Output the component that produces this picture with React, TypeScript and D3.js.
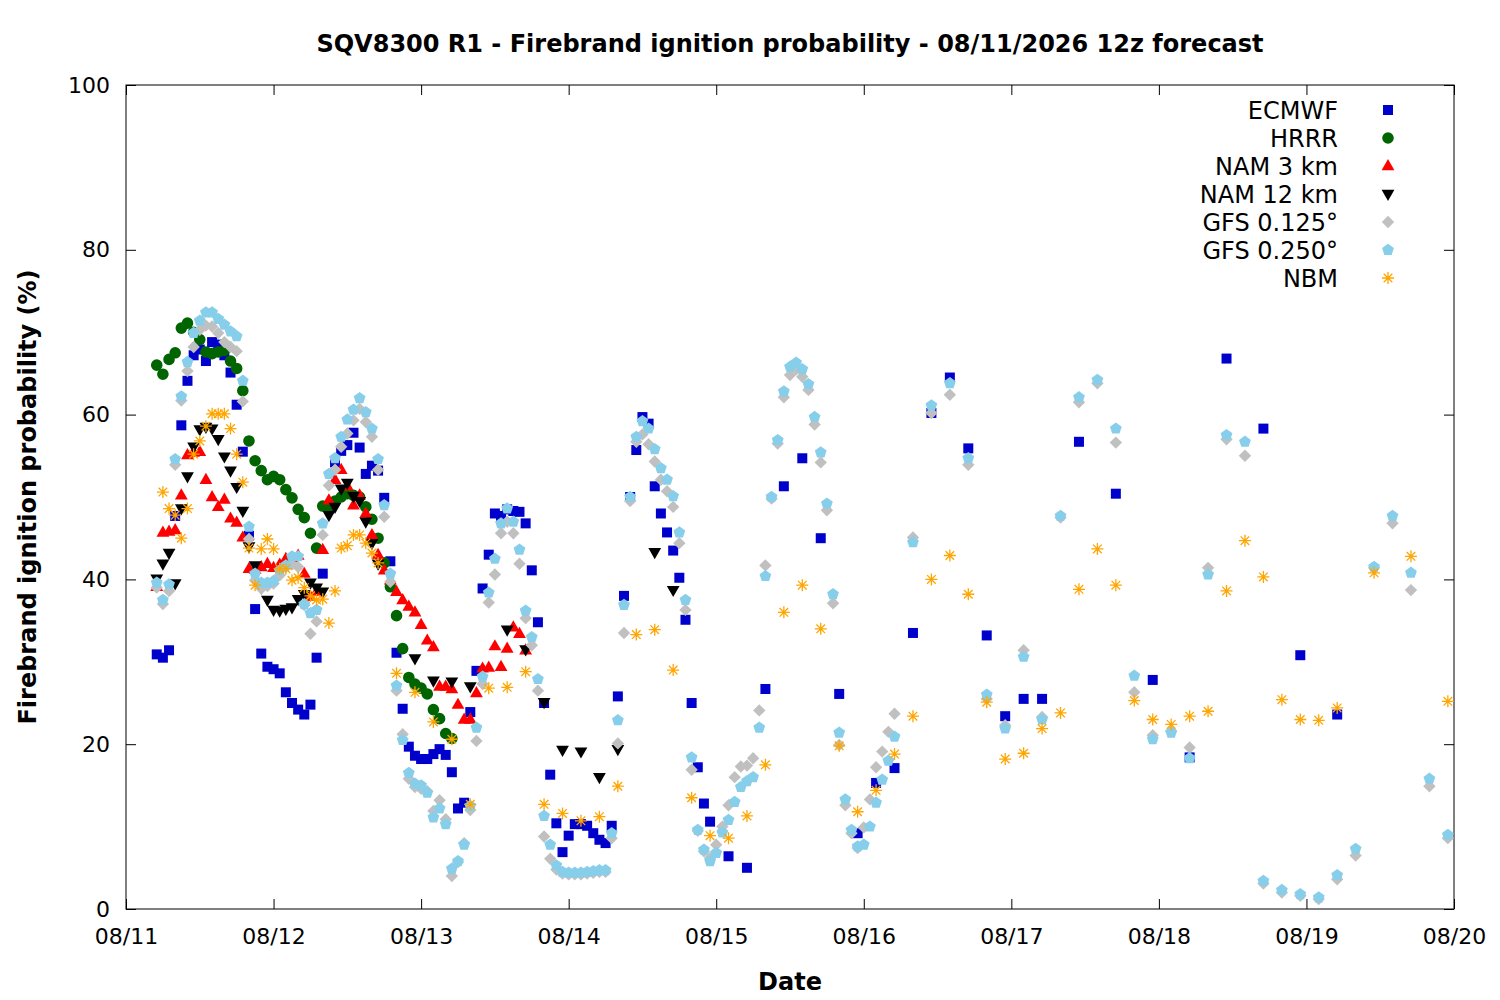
import { useEffect, useRef } from 'react';
import * as d3 from 'd3';

// each point: [hours after 08/11 00:00, ignition probability %]
type Pt = [number, number];

const dateLabels = ['08/11', '08/12', '08/13', '08/14', '08/15', '08/16', '08/17', '08/18', '08/19', '08/20'];
const yTicks = [0, 20, 40, 60, 80, 100];

const ecmwf: Pt[] = [
  [5, 30.9], [6, 30.5], [7, 31.4], [8, 47.7], [9, 58.7], [10, 64.1], [11, 67.2], [12, 67.9], [13, 66.5], [14, 68.8],
  [15, 68.5], [16, 67.2], [17, 65.1], [18, 61.2], [19, 55.5], [20, 45.3], [21, 36.4], [22, 31.0], [23, 29.4], [24, 29.1],
  [25, 28.6], [26, 26.3], [27, 25.0], [28, 24.2], [29, 23.6], [30, 24.8], [31, 30.5], [32, 40.7], [33, 48.8], [34, 54.2],
  [35, 55.6], [36, 56.3], [37, 57.8], [38, 56.0], [39, 52.8], [40, 53.8], [41, 53.2], [42, 49.9], [43, 42.2], [44, 31.1],
  [45, 24.3], [46, 19.7], [47, 18.6], [48, 18.2], [49, 18.2], [50, 18.8], [51, 19.4], [52, 18.7], [53, 16.6], [54, 12.2],
  [55, 12.9], [56, 23.9], [57, 28.9], [58, 38.9], [59, 43.0], [60, 48.0], [61, 47.7], [62, 48.5], [63, 48.3], [64, 48.2],
  [65, 46.8], [66, 41.1], [67, 34.8], [68, 25.0], [69, 16.3], [70, 10.4], [71, 6.9], [72, 8.9], [73, 10.3], [74, 10.3],
  [75, 10.1], [76, 9.2], [77, 8.4], [78, 8.0], [79, 10.1], [80, 25.8], [81, 38.0], [82, 50.0], [83, 55.7], [84, 59.7],
  [85, 58.9], [86, 51.3], [87, 48.0], [88, 45.7], [89, 43.5], [90, 40.2], [91, 35.1], [92, 25.0], [93, 17.2], [94, 12.8],
  [95, 10.6], [98, 6.4], [101, 5.0], [104, 26.7], [107, 51.3], [110, 54.7], [113, 45.0], [116, 26.1], [119, 9.2],
  [122, 15.3], [125, 17.1], [128, 33.5], [131, 60.2], [134, 64.5], [137, 55.9], [140, 33.2], [143, 23.4], [146, 25.5],
  [149, 25.5], [155, 56.7], [161, 50.4], [167, 27.8], [173, 18.4], [179, 66.8], [185, 58.3], [191, 30.8], [197, 23.6],
];

const hrrr: Pt[] = [
  [5, 66.0], [6, 64.9], [7, 66.7], [8, 67.5], [9, 70.5], [10, 71.1], [11, 70.0], [12, 69.1], [13, 67.6], [14, 67.4],
  [15, 67.6], [16, 67.8], [17, 66.5], [18, 65.6], [19, 62.9], [20, 56.8], [21, 54.4], [22, 53.2], [23, 52.1], [24, 52.5],
  [25, 52.1], [26, 50.9], [27, 49.9], [28, 48.5], [29, 47.5], [30, 45.6], [31, 43.8], [32, 48.9], [33, 48.9], [34, 49.5],
  [35, 50.0], [36, 50.4], [37, 50.2], [38, 50.0], [39, 48.8], [40, 47.3], [41, 45.0], [42, 42.0], [43, 39.1], [44, 35.6],
  [45, 31.6], [46, 28.1], [47, 27.3], [48, 26.8], [49, 26.1], [50, 24.2], [51, 23.1], [52, 21.3], [53, 20.7],
];

const nam3: Pt[] = [
  [5, 39.1], [6, 45.7], [7, 45.8], [8, 46.0], [9, 50.2], [10, 55.1], [11, 55.4], [12, 55.5], [13, 52.1], [14, 50.0],
  [15, 48.8], [16, 49.7], [17, 47.4], [18, 46.9], [19, 45.1], [20, 41.3], [21, 41.2], [22, 41.5], [23, 41.9], [24, 41.4],
  [25, 41.8], [26, 42.5], [27, 42.6], [28, 42.9], [29, 40.7], [30, 37.9], [31, 38.5], [32, 43.6], [33, 49.6], [34, 52.1],
  [35, 53.3], [36, 51.3], [37, 49.0], [38, 50.2], [39, 48.0], [40, 45.4], [41, 43.0], [42, 41.1], [43, 39.9], [44, 38.5],
  [45, 37.5], [46, 36.7], [47, 36.0], [48, 34.5], [49, 32.6], [50, 31.8], [51, 27.0], [52, 27.0], [53, 26.7], [54, 24.8],
  [55, 23.0], [56, 23.0], [57, 26.2], [58, 29.2], [59, 29.3], [60, 31.9], [61, 29.4], [62, 31.6], [63, 34.2], [64, 33.4],
  [65, 31.4],
];

const nam12: Pt[] = [
  [5, 40.1], [6, 41.9], [7, 43.2], [8, 39.5], [9, 48.6], [10, 52.5], [11, 56.1], [12, 58.2], [13, 58.5], [14, 58.3],
  [15, 57.0], [16, 54.9], [17, 53.2], [18, 51.2], [19, 48.3], [20, 44.0], [21, 41.7], [22, 39.0], [23, 37.5], [24, 36.3],
  [25, 36.2], [26, 36.4], [27, 36.6], [28, 37.6], [29, 38.2], [30, 39.6], [31, 39.0], [32, 38.5], [33, 47.8], [34, 48.8],
  [35, 51.0], [36, 51.7], [37, 50.1], [38, 49.5], [39, 47.0], [40, 44.4], [41, 41.9], [47, 30.4], [50, 27.7], [53, 27.6],
  [56, 27.0], [62, 33.9], [65, 31.5], [68, 25.1], [71, 19.3], [74, 19.1], [77, 16.0], [80, 19.4], [86, 43.3], [89, 38.7],
];

const gfs125: Pt[] = [
  [5, 39.0], [6, 37.0], [7, 38.6], [8, 53.9], [9, 61.7], [10, 65.3], [11, 68.2], [12, 70.3], [13, 70.8], [14, 70.7],
  [15, 69.9], [16, 68.8], [17, 68.2], [18, 67.7], [19, 61.6], [20, 44.9], [21, 39.9], [22, 38.9], [23, 39.2], [24, 39.5],
  [25, 40.5], [26, 41.5], [27, 41.8], [28, 41.5], [29, 36.9], [30, 33.4], [31, 34.9], [32, 45.4], [33, 51.4], [34, 53.3],
  [35, 56.1], [36, 57.7], [37, 59.3], [38, 60.7], [39, 59.1], [40, 57.3], [41, 53.3], [42, 47.6], [43, 39.7], [44, 26.5],
  [45, 21.2], [46, 15.8], [47, 14.8], [48, 14.6], [49, 14.3], [50, 11.9], [51, 13.2], [52, 10.9], [53, 4.0], [54, 5.7],
  [55, 8.0], [56, 12.0], [57, 20.4], [58, 27.3], [59, 37.2], [60, 40.6], [61, 45.6], [62, 47.0], [63, 45.6], [64, 41.9],
  [65, 35.3], [66, 32.0], [67, 26.5], [68, 8.8], [69, 6.1], [70, 4.8], [71, 4.3], [72, 4.2], [73, 4.2], [74, 4.2],
  [75, 4.3], [76, 4.4], [77, 4.5], [78, 4.5], [79, 8.6], [80, 20.1], [81, 33.5], [82, 49.5], [83, 56.7], [84, 57.6],
  [85, 56.4], [86, 54.3], [87, 52.1], [88, 50.7], [89, 48.8], [90, 44.4], [91, 36.3], [92, 16.9], [93, 9.5], [94, 7.0],
  [95, 6.2], [96, 7.8], [97, 10.0], [98, 12.6], [99, 16.0], [100, 17.3], [101, 17.4], [102, 18.3], [103, 24.1], [104, 41.7],
  [105, 49.8], [106, 56.5], [107, 62.1], [108, 64.8], [109, 65.5], [110, 64.6], [111, 63.0], [112, 58.8], [113, 54.2],
  [114, 48.4], [115, 37.1], [116, 19.9], [117, 12.6], [118, 9.2], [119, 7.4], [120, 9.9], [121, 13.3], [122, 17.2],
  [123, 19.1], [124, 21.5], [125, 23.7], [128, 45.1], [131, 60.2], [134, 62.4], [137, 53.9], [140, 25.5], [143, 22.3],
  [146, 31.4], [149, 23.3], [152, 47.5], [155, 61.5], [158, 63.8], [161, 56.6], [164, 26.3], [167, 21.1], [170, 21.6],
  [173, 19.6], [176, 41.4], [179, 57.0], [182, 55.0], [185, 3.1], [188, 2.0], [191, 1.6], [194, 1.2], [197, 3.6],
  [200, 6.5], [203, 41.4], [206, 46.8], [209, 38.7], [212, 14.9], [215, 8.6],
];

const gfs250: Pt[] = [
  [5, 39.6], [6, 37.5], [7, 39.4], [8, 54.6], [9, 62.2], [10, 66.4], [11, 69.9], [12, 71.4], [13, 72.4], [14, 72.4],
  [15, 71.6], [16, 70.9], [17, 70.1], [18, 69.5], [19, 64.1], [20, 46.4], [21, 40.7], [22, 39.6], [23, 39.6], [24, 39.8],
  [25, 41.1], [26, 41.7], [27, 42.8], [28, 42.8], [29, 37.0], [30, 35.9], [31, 36.3], [32, 46.8], [33, 52.8], [34, 54.7],
  [35, 57.3], [36, 59.4], [37, 60.6], [38, 62.0], [39, 60.3], [40, 58.3], [41, 54.6], [42, 49.0], [43, 40.7], [44, 27.1],
  [45, 20.5], [46, 16.5], [47, 15.2], [48, 15.0], [49, 14.1], [50, 11.1], [51, 12.2], [52, 10.3], [53, 4.9], [54, 5.8],
  [55, 7.8], [56, 12.5], [57, 22.0], [58, 28.2], [59, 38.4], [60, 42.5], [61, 46.8], [62, 48.6], [63, 47.0], [64, 43.6],
  [65, 36.2], [66, 33.0], [67, 27.9], [68, 11.3], [69, 7.8], [70, 5.3], [71, 4.5], [72, 4.4], [73, 4.4], [74, 4.4],
  [75, 4.5], [76, 4.6], [77, 4.7], [78, 4.7], [79, 9.2], [80, 22.9], [81, 36.9], [82, 50.0], [83, 57.3], [84, 59.2],
  [85, 58.3], [86, 55.8], [87, 53.5], [88, 52.1], [89, 50.1], [90, 45.7], [91, 37.5], [92, 18.4], [93, 9.6], [94, 7.2],
  [95, 5.8], [96, 6.8], [97, 9.3], [98, 10.8], [99, 13.0], [100, 14.8], [101, 15.5], [102, 16.0], [103, 22.0], [104, 40.4],
  [105, 50.0], [106, 56.9], [107, 62.8], [108, 65.8], [109, 66.3], [110, 65.5], [111, 63.7], [112, 59.7], [113, 55.4],
  [114, 49.2], [115, 38.2], [116, 21.4], [117, 13.3], [118, 9.6], [119, 7.6], [120, 7.8], [121, 10.0], [122, 12.9],
  [123, 15.7], [124, 18.0], [125, 20.9], [128, 44.5], [131, 61.1], [134, 63.8], [137, 54.7], [140, 26.0], [143, 21.9],
  [146, 30.6], [149, 23.0], [152, 47.7], [155, 62.1], [158, 64.2], [161, 58.3], [164, 28.3], [167, 20.6], [170, 21.4],
  [173, 18.3], [176, 40.6], [179, 57.5], [182, 56.7], [185, 3.4], [188, 2.3], [191, 1.8], [194, 1.4], [197, 4.1],
  [200, 7.3], [203, 41.5], [206, 47.7], [209, 40.8], [212, 15.8], [215, 9.0],
];

const nbm: Pt[] = [
  [6, 50.6], [7, 48.6], [8, 47.8], [9, 45.0], [10, 48.6], [11, 55.2], [12, 56.8], [13, 58.6], [14, 60.1], [15, 60.1],
  [16, 60.1], [17, 58.3], [18, 55.2], [19, 51.8], [20, 43.8], [21, 39.3], [22, 43.7], [23, 44.9], [24, 43.7], [25, 41.3],
  [26, 41.3], [27, 39.9], [28, 40.2], [29, 39.0], [30, 38.0], [31, 37.5], [32, 37.6], [33, 34.7], [34, 38.6], [35, 43.8],
  [36, 44.1], [37, 45.4], [38, 45.4], [39, 44.4], [40, 43.2], [41, 42.0], [44, 28.6], [47, 26.3], [50, 22.7], [53, 20.6],
  [56, 12.7], [59, 26.8], [62, 26.9], [65, 28.8], [68, 12.7], [71, 11.6], [74, 10.7], [77, 11.2], [80, 14.9], [83, 33.3],
  [86, 33.9], [89, 29.0], [92, 13.5], [95, 8.9], [98, 8.6], [101, 11.3], [104, 17.5], [107, 36.0], [110, 39.3], [113, 34.0],
  [116, 19.8], [119, 11.8], [122, 14.4], [125, 18.8], [128, 23.4], [131, 40.0], [134, 42.9], [137, 38.2], [140, 25.1],
  [143, 18.2], [146, 18.9], [149, 21.9], [152, 23.8], [155, 38.8], [158, 43.7], [161, 39.3], [164, 25.3], [167, 23.0],
  [170, 22.4], [173, 23.4], [176, 24.0], [179, 38.6], [182, 44.7], [185, 40.3], [188, 25.4], [191, 23.0], [194, 22.9],
  [197, 24.4], [203, 40.8], [209, 42.8], [215, 25.2],
];

type Shape = 'square' | 'circle' | 'triUp' | 'triDown' | 'diamond' | 'pentagon' | 'star';

// gnuplot-like point types
function markerPath(shape: Shape): string {
  switch (shape) {
    case 'square':
      return 'M-5,-5H5V5H-5Z';
    case 'circle':
      return d3.symbol(d3.symbolCircle, Math.PI * 5.8 * 5.8)() || '';
    case 'triUp':
      return 'M0,-7L6.4,4.2L-6.4,4.2Z';
    case 'triDown':
      return 'M0,7L6.4,-4.2L-6.4,-4.2Z';
    case 'diamond':
      return 'M0,-6.2L6.2,0L0,6.2L-6.2,0Z';
    case 'pentagon': {
      const pts = d3.range(5).map((i) => {
        const a = -Math.PI / 2 + (i * 2 * Math.PI) / 5;
        return [6.2 * Math.cos(a), 6.2 * Math.sin(a)];
      });
      return 'M' + pts.map((p) => p.join(',')).join('L') + 'Z';
    }
    case 'star':
      return 'M-6,0H6M0,-6V6M-4.3,-4.3L4.3,4.3M-4.3,4.3L4.3,-4.3';
  }
}

const series: { name: string; data: Pt[]; shape: Shape; color: string }[] = [
  { name: 'ECMWF', data: ecmwf, shape: 'square', color: '#0000cd' },
  { name: 'HRRR', data: hrrr, shape: 'circle', color: '#006400' },
  { name: 'NAM 3 km', data: nam3, shape: 'triUp', color: '#ff0000' },
  { name: 'NAM 12 km', data: nam12, shape: 'triDown', color: '#000000' },
  { name: 'GFS 0.125°', data: gfs125, shape: 'diamond', color: '#c0c0c0' },
  { name: 'GFS 0.250°', data: gfs250, shape: 'pentagon', color: '#87ceeb' },
  { name: 'NBM', data: nbm, shape: 'star', color: '#ffa500' },
];

export default function App() {
  const svgRef = useRef<SVGSVGElement>(null);

  useEffect(() => {
    if (!svgRef.current) return;
    document.body.style.margin = '0';

    const width = 1500;
    const height = 1000;
    const margin = { top: 85, right: 46, bottom: 91, left: 126 };
    const font = 'DejaVu Sans';

    d3.select(svgRef.current).selectAll('*').remove();
    const svg = d3.select(svgRef.current).attr('width', width).attr('height', height);

    const x = d3
      .scaleLinear()
      .domain([0, 24 * (dateLabels.length - 1)])
      .range([margin.left, width - margin.right]);
    const y = d3
      .scaleLinear()
      .domain([0, 100])
      .range([height - margin.bottom, margin.top]);

    const xTicks = dateLabels.map((_, i) => i * 24);

    // axes with inward ticks (gnuplot style), mirrored on top/right
    const styleAxis = (g: d3.Selection<SVGGElement, unknown, null, undefined>) => {
      g.select('.domain').remove();
      g.selectAll('line').attr('stroke', '#000').attr('stroke-width', 1);
      g.selectAll('text')
        .style('font-family', font)
        .style('font-size', '22px')
        .attr('fill', '#000');
    };

    svg
      .append('g')
      .attr('transform', `translate(0,${height - margin.bottom})`)
      .call(
        d3.axisBottom(x).tickValues(xTicks).tickSize(-10).tickPadding(19)
          .tickFormat((_, i) => dateLabels[i])
      )
      .call(styleAxis);
    svg
      .append('g')
      .attr('transform', `translate(0,${margin.top})`)
      .call(d3.axisTop(x).tickValues(xTicks).tickSize(-10).tickFormat(() => ''))
      .call(styleAxis);
    svg
      .append('g')
      .attr('transform', `translate(${margin.left},0)`)
      .call(d3.axisLeft(y).tickValues(yTicks).tickSize(-10).tickPadding(16))
      .call(styleAxis);
    svg
      .append('g')
      .attr('transform', `translate(${width - margin.right},0)`)
      .call(d3.axisRight(y).tickValues(yTicks).tickSize(-10).tickFormat(() => ''))
      .call(styleAxis);

    svg
      .append('rect')
      .attr('x', margin.left)
      .attr('y', margin.top)
      .attr('width', width - margin.left - margin.right)
      .attr('height', height - margin.top - margin.bottom)
      .attr('fill', 'none')
      .attr('stroke', '#000')
      .attr('stroke-width', 1);

    // points
    series.forEach((s) => {
      const path = markerPath(s.shape);
      svg
        .append('g')
        .selectAll('path')
        .data(s.data)
        .enter()
        .append('path')
        .attr('d', path)
        .attr('transform', (d) => `translate(${x(d[0])},${y(d[1])})`)
        .attr('fill', s.shape === 'star' ? 'none' : s.color)
        .attr('stroke', s.shape === 'star' ? s.color : 'none')
        .attr('stroke-width', 1.3);
    });

    // legend
    const legend = svg.append('g');
    series.forEach((s, i) => {
      const ly = 110 + i * 28;
      legend
        .append('text')
        .attr('x', 1338)
        .attr('y', ly)
        .attr('dy', '0.36em')
        .attr('text-anchor', 'end')
        .style('font-family', font)
        .style('font-size', '24px')
        .text(s.name);
      legend
        .append('path')
        .attr('d', markerPath(s.shape))
        .attr('transform', `translate(1388,${ly})`)
        .attr('fill', s.shape === 'star' ? 'none' : s.color)
        .attr('stroke', s.shape === 'star' ? s.color : 'none')
        .attr('stroke-width', 1.3);
    });

    // title and axis labels
    svg
      .append('text')
      .attr('x', (margin.left + width - margin.right) / 2)
      .attr('y', 43)
      .attr('dy', '0.36em')
      .attr('text-anchor', 'middle')
      .style('font-family', font)
      .style('font-size', '24px')
      .style('font-weight', 'bold')
      .text('SQV8300 R1 - Firebrand ignition probability - 08/11/2026 12z forecast');

    svg
      .append('text')
      .attr('x', (margin.left + width - margin.right) / 2)
      .attr('y', 981)
      .attr('dy', '0.36em')
      .attr('text-anchor', 'middle')
      .style('font-family', font)
      .style('font-size', '24px')
      .style('font-weight', 'bold')
      .text('Date');

    svg
      .append('text')
      .attr('transform', `translate(27,${(margin.top + height - margin.bottom) / 2}) rotate(-90)`)
      .attr('dy', '0.36em')
      .attr('text-anchor', 'middle')
      .style('font-family', font)
      .style('font-size', '24px')
      .style('font-weight', 'bold')
      .text('Firebrand ignition probability (%)');
  }, []);

  return <svg ref={svgRef} style={{ display: 'block', position: 'absolute', left: 0, top: 0 }} />;
}
